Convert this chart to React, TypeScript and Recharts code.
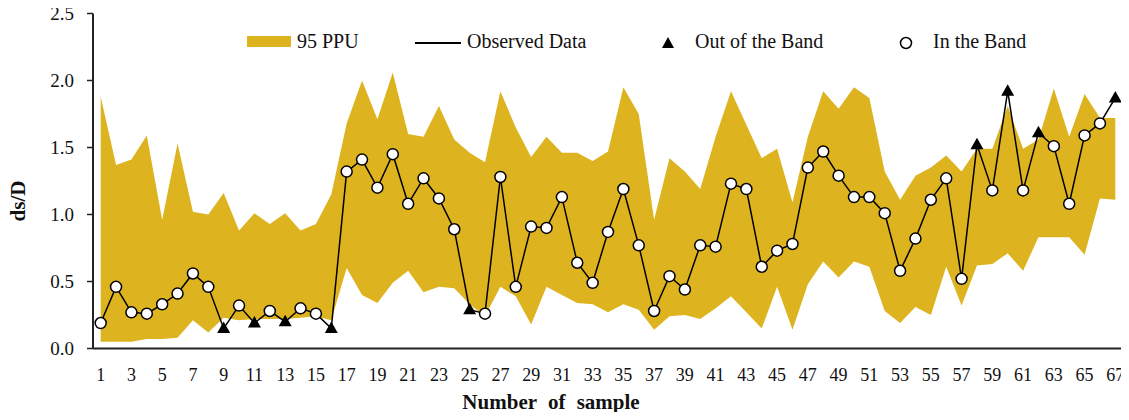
import React from 'react'
import { Area, ComposedChart, Line, XAxis, YAxis } from 'recharts'

// sample numbers 1..67
const samples = [
	1, 2, 3, 4, 5, 6, 7, 8, 9, 10, 11, 12, 13, 14, 15, 16, 17, 18, 19, 20, 21, 22, 23, 24, 25, 26, 27, 28, 29, 30,
	31, 32, 33, 34, 35, 36, 37, 38, 39, 40, 41, 42, 43, 44, 45, 46, 47, 48, 49, 50, 51, 52, 53, 54, 55, 56, 57, 58,
	59, 60, 61, 62, 63, 64, 65, 66, 67,
]

const observed = [
	0.19, 0.46, 0.27, 0.26, 0.33, 0.41, 0.56, 0.46, 0.15, 0.32, 0.19, 0.28, 0.2, 0.3, 0.26, 0.15, 1.32, 1.41, 1.2, 1.45,
	1.08, 1.27, 1.12, 0.89, 0.29, 0.26, 1.28, 0.46, 0.91, 0.9, 1.13, 0.64, 0.49, 0.87, 1.19, 0.77, 0.28, 0.54, 0.44,
	0.77, 0.76, 1.23, 1.19, 0.61, 0.73, 0.78, 1.35, 1.47, 1.29, 1.13, 1.13, 1.01, 0.58, 0.82, 1.11, 1.27, 0.52, 1.52,
	1.18, 1.92, 1.18, 1.61, 1.51, 1.08, 1.59, 1.68, 1.87,
]

// 95 PPU band
const upper = [
	1.88, 1.37, 1.41, 1.59, 0.96, 1.53, 1.02, 1.0, 1.16, 0.88, 1.01, 0.93, 1.01, 0.88, 0.93, 1.15, 1.68, 2.0, 1.71,
	2.06, 1.6, 1.58, 1.81, 1.56, 1.46, 1.39, 1.92, 1.65, 1.43, 1.58, 1.46, 1.46, 1.4, 1.47, 1.95, 1.75, 0.96, 1.42,
	1.32, 1.19, 1.58, 1.92, 1.67, 1.42, 1.49, 1.09, 1.58, 1.92, 1.79, 1.95, 1.87, 1.32, 1.11, 1.29, 1.35, 1.44, 1.32,
	1.49, 1.49, 1.81, 1.49, 1.56, 1.94, 1.58, 1.9, 1.72, 1.72,
]

const lower = [
	0.05, 0.05, 0.05, 0.07, 0.07, 0.08, 0.21, 0.12, 0.23, 0.21, 0.22, 0.22, 0.22, 0.23, 0.24, 0.21, 0.6, 0.4, 0.34,
	0.49, 0.58, 0.42, 0.46, 0.45, 0.33, 0.24, 0.46, 0.39, 0.18, 0.46, 0.4, 0.34, 0.33, 0.27, 0.33, 0.29, 0.14, 0.24,
	0.25, 0.22, 0.3, 0.39, 0.27, 0.15, 0.46, 0.14, 0.48, 0.65, 0.53, 0.65, 0.61, 0.28, 0.19, 0.31, 0.25, 0.61, 0.32,
	0.62, 0.63, 0.71, 0.58, 0.83, 0.83, 0.83, 0.7, 1.12, 1.11,
]

const xLabelTicks = samples.filter(n => n % 2 === 1)
const xEdgeTicks = [0.5, ...samples.map(n => n + 0.5)]
const yTicks = [0, 0.5, 1, 1.5, 2, 2.5]

const GOLD = '#ddb420'
const INK = '#111'
const FONT = '"Liberation Serif", "Times New Roman", serif'

const data = samples.map((n, i) => ({
	sample: n,
	band: [lower[i], upper[i]],
	observed: observed[i],
	outside: observed[i] < lower[i] || observed[i] > upper[i],
}))

const ObservedDot = (props: any) => {
	const { cx, cy, payload, index } = props
	if (cx == null || cy == null) return null
	if (payload.outside) {
		return (
			<polygon
				key={`d${index}`}
				points={`${cx},${cy - 7} ${cx - 6.5},${cy + 4.5} ${cx + 6.5},${cy + 4.5}`}
				fill='#000'
			/>
		)
	}
	return <circle key={`d${index}`} cx={cx} cy={cy} r={5.5} fill='#fff' stroke='#000' strokeWidth={1.5} />
}

const YLabel = ({ viewBox }: any) => {
	if (!viewBox) return null
	const x = viewBox.x + 18
	const y = viewBox.y + viewBox.height / 2 + 20
	return (
		<text
			x={x}
			y={y}
			transform={`rotate(-90, ${x}, ${y})`}
			textAnchor='middle'
			dominantBaseline='central'
			style={{ fontSize: 21, fontWeight: 700, fontFamily: FONT, fill: INK }}
		>
			ds/D
		</text>
	)
}

const legendText: React.CSSProperties = {
	position: 'absolute',
	top: 30,
	fontSize: 20,
	lineHeight: '23px',
	fontFamily: FONT,
	color: INK,
	whiteSpace: 'nowrap',
}

const Legend = () => (
	<>
		<div style={{ position: 'absolute', left: 247, top: 36, width: 44, height: 11, background: GOLD }} />
		<div style={{ ...legendText, left: 297 }}>95 PPU</div>
		<div style={{ position: 'absolute', left: 415, top: 42, width: 46, height: 2, background: '#000' }} />
		<div style={{ ...legendText, left: 467 }}>Observed Data</div>
		<svg style={{ position: 'absolute', left: 660, top: 36 }} width={16} height={14}>
			<polygon points='8,1 2,12 14,12' fill='#000' />
		</svg>
		<div style={{ ...legendText, left: 695 }}>Out of the Band</div>
		<svg style={{ position: 'absolute', left: 898, top: 35 }} width={16} height={16}>
			<circle cx={8} cy={8} r={5.5} fill='#fff' stroke='#000' strokeWidth={1.5} />
		</svg>
		<div style={{ ...legendText, left: 933 }}>In the Band</div>
	</>
)

export default function App() {
	return (
		<div style={{ position: 'relative', width: 1129, height: 420, margin: -8 }}>
			<ComposedChart
				width={1129}
				height={420}
				data={data}
				margin={{ top: 13.5, right: 6, left: 0, bottom: 0 }}
			>
				<XAxis
					xAxisId='edges'
					dataKey='sample'
					type='number'
					domain={[0.5, 67.5]}
					ticks={xEdgeTicks}
					interval={0}
					tick={false}
					tickSize={5}
					height={1}
					allowDataOverflow
					axisLine={{ stroke: '#222', strokeWidth: 2 }}
					tickLine={{ stroke: '#222', strokeWidth: 1.5 }}
				/>
				<XAxis
					xAxisId='main'
					dataKey='sample'
					type='number'
					domain={[0.5, 67.5]}
					ticks={xLabelTicks}
					interval={0}
					height={70.5}
					tickSize={0}
					tickMargin={19}
					tickLine={false}
					axisLine={false}
					tick={{ fontSize: 18, fontFamily: FONT, fill: INK }}
					label={{
						value: 'Number of sample',
						position: 'insideBottom',
						offset: 11,
						dx: -57,
						style: {
							fontSize: 21,
							fontWeight: 700,
							fontFamily: FONT,
							fill: INK,
							wordSpacing: 6,
						},
					}}
				/>
				<YAxis
					type='number'
					domain={[0, 2.5]}
					ticks={yTicks}
					interval={0}
					width={93}
					tickSize={6}
					tickMargin={13}
					tickFormatter={(v: number) => v.toFixed(1)}
					axisLine={{ stroke: '#222', strokeWidth: 2 }}
					tickLine={{ stroke: '#222', strokeWidth: 1.5 }}
					tick={{ fontSize: 19, fontFamily: FONT, fill: INK }}
					label={<YLabel />}
				/>
				<Area
					xAxisId='main'
					type='linear'
					dataKey='band'
					fill={GOLD}
					fillOpacity={1}
					stroke='none'
					isAnimationActive={false}
					activeDot={false}
				/>
				<Line
					xAxisId='main'
					type='linear'
					dataKey='observed'
					stroke='#000'
					strokeWidth={1.5}
					dot={<ObservedDot />}
					activeDot={false}
					isAnimationActive={false}
				/>
			</ComposedChart>
			<Legend />
		</div>
	)
}
